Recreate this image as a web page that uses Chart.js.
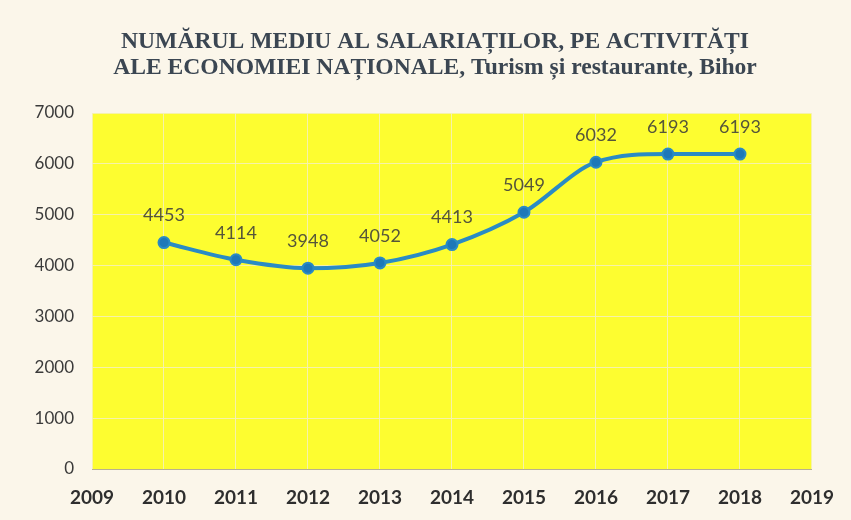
<!DOCTYPE html>
<html><head><meta charset="utf-8">
<script src="https://cdn.jsdelivr.net/npm/chart.js@4.4.1/dist/chart.umd.min.js"></script>
<style>html,body{margin:0;padding:0;background:#fbf6ea;}#wrap{width:851px;height:520px;}</style>
</head><body><div id="wrap"><canvas id="c" width="851" height="520"></canvas></div>
<script>
const years = [2010, 2011, 2012, 2013, 2014, 2015, 2016, 2017, 2018];
const employees = [4453, 4114, 3948, 4052, 4413, 5049, 6032, 6193, 6193];
const titleLines = ["NUMĂRUL MEDIU AL SALARIAȚILOR, PE ACTIVITĂȚI", "ALE ECONOMIEI NAȚIONALE, Turism și restaurante, Bihor"];
const xRange = [2009, 2019];
const yRange = [0, 7000];

const bgPlugin = {
  id: 'bg',
  beforeDraw(chart) {
    const {ctx, chartArea: a} = chart;
    ctx.save();
    ctx.fillStyle = '#fbf6ea';
    ctx.fillRect(0, 0, chart.width, chart.height);
    ctx.fillStyle = '#fdfd30';
    ctx.fillRect(a.left, a.top, a.right - a.left, a.bottom - a.top);
    ctx.restore();
  }
};
const titlePlugin = {
  id: 'titleText',
  afterDraw(chart) {
    const {ctx} = chart;
    ctx.save();
    ctx.font = 'bold 23.6px "Liberation Serif", "DejaVu Serif", serif';
    ctx.fillStyle = '#3b4652';
    ctx.textAlign = 'center';
    ctx.textBaseline = 'middle';
    ctx.fillText(titleLines[0], 435, 42);
    ctx.fillText(titleLines[1], 435, 68);
    ctx.restore();
  }
};
const labelPlugin = {
  id: 'vals',
  afterDatasetsDraw(chart) {
    const {ctx} = chart;
    const meta = chart.getDatasetMeta(0);
    ctx.save();
    ctx.font = '18px Lato, "Open Sans", sans-serif';
    ctx.fillStyle = '#55553a';
    ctx.textAlign = 'center';
    ctx.textBaseline = 'middle';
    meta.data.forEach((p, i) => {
      ctx.fillText(String(employees[i]), p.x, p.y - 27);
    });
    ctx.restore();
  }
};

new Chart(document.getElementById('c'), {
  type: 'line',
  data: {
    datasets: [{
      data: years.map((y, i) => ({x: y, y: employees[i]})),
      borderColor: '#2a8bc4',
      borderWidth: 4,
      backgroundColor: '#1e78b8',
      pointBackgroundColor: '#1e78b8',
      pointBorderColor: '#2a8bc4',
      pointBorderWidth: 2,
      pointRadius: 5.5,
      cubicInterpolationMode: 'monotone',
      fill: false
    }]
  },
  options: {
    responsive: false,
    animation: false,
    layout: {padding: {left: 0, right: 32, top: 113, bottom: 0}},
    plugins: {
      legend: {display: false},
      tooltip: {enabled: false},
      title: {display: false}
    },
    scales: {
      x: {
        type: 'linear',
        min: xRange[0], max: xRange[1],
        afterFit(s) { s.height = 51; },
        ticks: {stepSize: 1, padding: 17, color: '#2e2e2e', font: {family: 'Lato, "Open Sans", sans-serif', size: 19, weight: 'bold'}, callback: v => String(v)},
        grid: {color: 'rgba(245,240,190,0.85)', lineWidth: 1, drawTicks: false},
        border: {color: '#b8b090', width: 1}
      },
      y: {
        min: yRange[0], max: yRange[1],
        afterFit(s) { s.width = 92; },
        ticks: {stepSize: 1000, padding: 18, color: '#3a3a3a', font: {family: 'Lato, "Open Sans", sans-serif', size: 17}, callback: v => String(v)},
        grid: {color: 'rgba(245,240,190,0.85)', lineWidth: 1, drawTicks: false},
        border: {display: false}
      }
    }
  },
  plugins: [bgPlugin, titlePlugin, labelPlugin]
});
</script></body></html>
